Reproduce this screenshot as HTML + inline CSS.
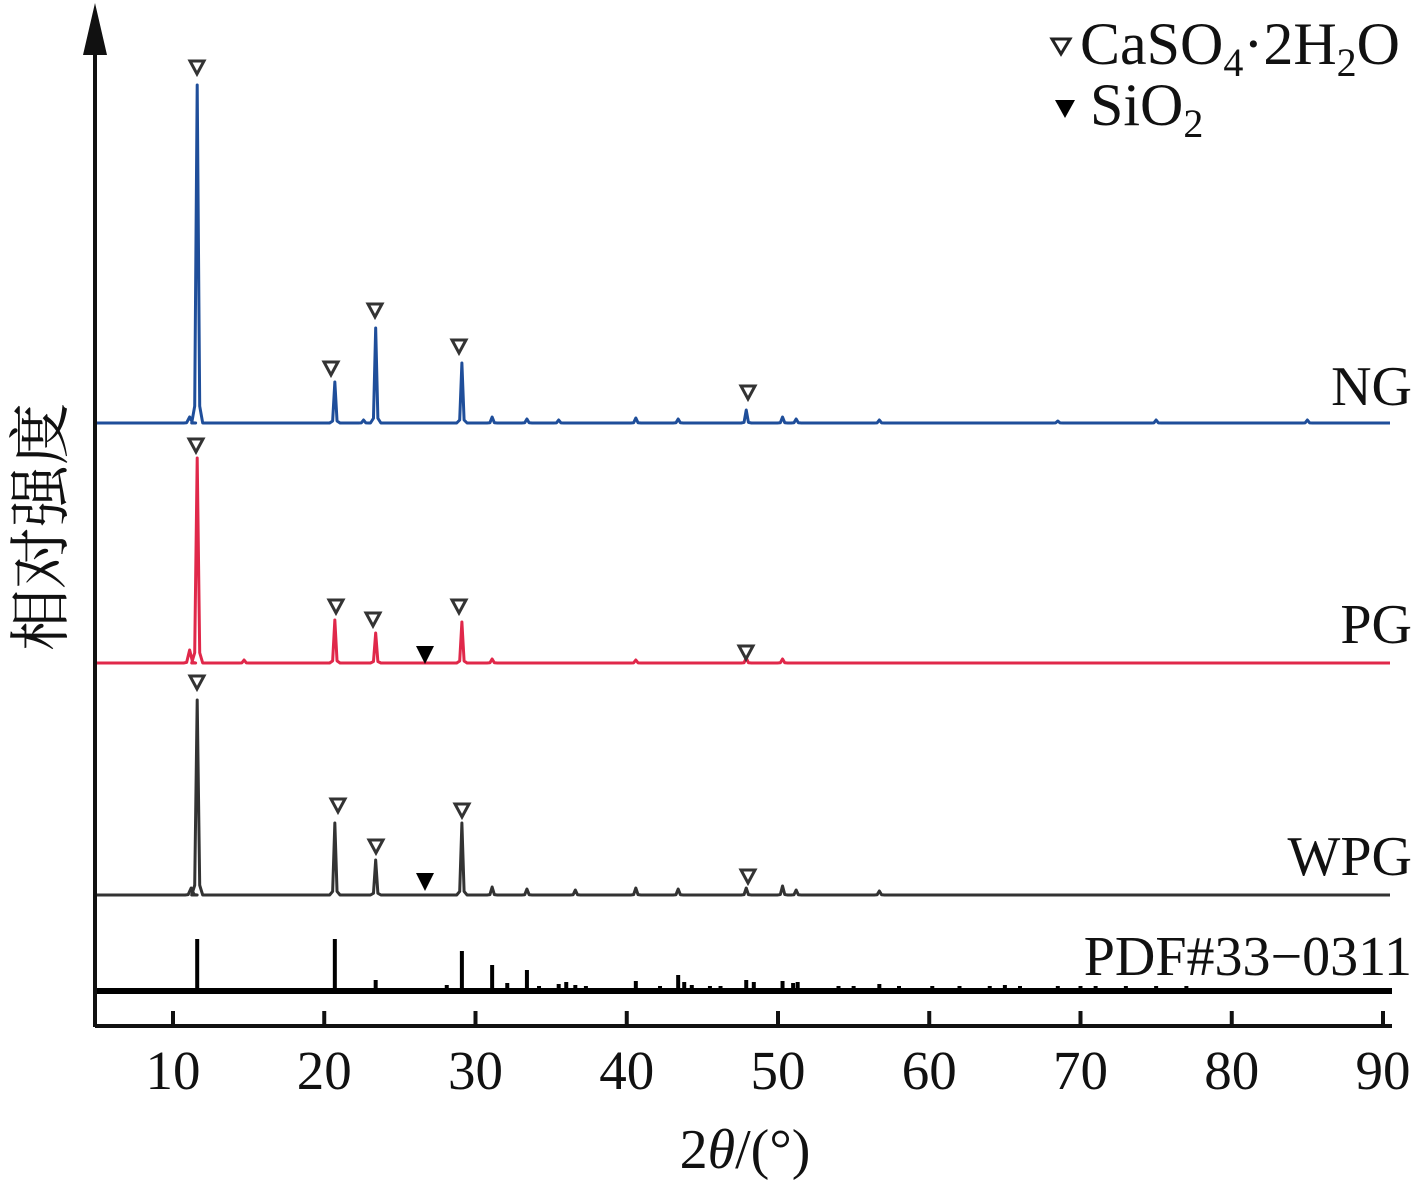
<!DOCTYPE html>
<html><head><meta charset="utf-8"><style>
html,body{margin:0;padding:0;background:#fff;}
svg{display:block;}
text{font-family:"Liberation Serif","Noto Serif CJK SC",serif;fill:#111;}
</style></head><body>
<svg id="s" width="1417" height="1181" viewBox="0 0 1417 1181" xmlns="http://www.w3.org/2000/svg">
<line x1="95" y1="1026" x2="1392" y2="1026" stroke="#111" stroke-width="4"/>
<line x1="95" y1="1027" x2="95" y2="50" stroke="#111" stroke-width="4"/>
<polygon points="95,3 83,55 107,55" fill="#111"/>
<line x1="97" y1="991" x2="1392" y2="991" stroke="#000" stroke-width="6"/>
<g id="ticks" stroke="#111" stroke-width="4"></g>
<g id="curves" fill="none"></g>
<g id="marks"></g>
<g font-size="55" text-anchor="middle" id="tl"></g>
<text x="745" y="1168" font-size="56" text-anchor="middle">2<tspan font-style="italic">θ</tspan>/(°)</text>
<text transform="translate(62,527) rotate(-90)" font-size="62" text-anchor="middle">相对强度</text>
<text x="1412" y="405" font-size="56" text-anchor="end">NG</text>
<text x="1412" y="643" font-size="56" text-anchor="end">PG</text>
<text x="1412" y="875" font-size="56" text-anchor="end">WPG</text>
<text x="1412" y="975" font-size="56" text-anchor="end">PDF#33−0311</text>
<polygon points="1052,39 1070,39 1061,54" fill="none" stroke="#222" stroke-width="3"/>
<text x="1080" y="64" font-size="60">CaSO<tspan font-size="40" dy="12">4</tspan><tspan dy="-12">·2H</tspan><tspan font-size="40" dy="12">2</tspan><tspan dy="-12">O</tspan></text>
<polygon points="1055,100 1075,100 1065,118" fill="#000"/>
<text x="1090" y="125" font-size="60">SiO<tspan font-size="40" dy="12">2</tspan></text>
</svg>
<script>
const X=t=>173+(t-10)*15.125;
const NS="http://www.w3.org/2000/svg";
function el(p,n,a){const e=document.createElementNS(NS,n);for(const k in a)e.setAttribute(k,a[k]);document.getElementById(p).appendChild(e);return e;}
for(let t=10;t<=90;t+=10){el('ticks','line',{x1:X(t),y1:1026,x2:X(t),y2:1011});const tx=el('tl','text',{x:X(t),y:1089});tx.textContent=t;}
function curve(b,peaks,color,w){
 let d=`M97 ${b}`;peaks.sort((a,c)=>a[0]-c[0]);
 for(const [t,top,hw] of peaks){const x=X(t),h=hw||2.2;d+=` L${x-h-3} ${b} L${x-h} ${b-(b-top)*0.05} L${x} ${top} L${x+h} ${b-(b-top)*0.05} L${x+h+3} ${b}`;}
 d+=` L1390 ${b}`;el('curves','path',{d:d,stroke:color,'stroke-width':w,'stroke-linejoin':'round'});
}
const minor=(b,s)=>[[31.1,b-6*s],[33.4,b-4*s],[35.5,b-3*s],[40.6,b-5*s],[43.4,b-4*s],[50.3,b-6*s],[51.2,b-4*s],[56.7,b-3*s],[68.5,b-2*s]];
curve(423,[[11.6,85,2.5],[20.7,382],[23.4,328],[29.1,363],[47.9,410],[11.1,417,3],[22.6,420],[75,420],[85,420]].concat(minor(423,1)),'#1f4e9a',3);
curve(663,[[11.6,458,2.5],[20.7,620],[23.4,633],[29.1,622],[47.9,658],[11.1,650,3],[14.7,660],[31.1,659],[40.6,660],[50.3,659]],'#e0284a',3);
curve(895,[[11.6,700,2.5],[20.7,823],[23.4,860],[29.1,823],[47.9,888],[11.2,888,3],[31.1,887],[33.4,889],[36.6,890],[40.6,888],[43.4,889],[50.3,886],[51.2,890],[56.7,891]],'#333',3);
const st=[[11.6,939],[20.7,939],[23.4,980],[28.1,985],[29.1,951],[31.1,965],[32.1,983],[33.4,970],[34.2,986],[35.5,984],[36.0,982],[36.6,985],[37.3,986],[40.6,981],[42.2,986],[43.4,975],[43.8,982],[44.3,985],[45.5,986],[46.2,986],[47.9,980],[48.4,982],[50.3,981],[51.0,983],[51.3,982],[54,986],[55,986],[56.7,984],[58,986],[60.2,986],[62,986],[64,986],[65,985],[66,986],[68.5,986],[70,986],[71,986],[73,986],[75,986],[77,986]];
for(const [t,y] of st)el('curves','line',{x1:X(t),y1:991,x2:X(t),y2:y,stroke:'#000','stroke-width':4});
function open(x,y){el('marks','polygon',{points:`${x-7},${y-7} ${x+7},${y-7} ${x},${y+6}`,fill:'none',stroke:'#333','stroke-width':3});}
function fill(x,y){el('marks','polygon',{points:`${x-9},${y-9} ${x+9},${y-9} ${x},${y+9}`,fill:'#000'});}
[[197,68],[331,369],[375,311],[459,347],[748,393],[196,446],[336,607],[373,620],[459,607],[746,653],[197,683],[338,806],[376,847],[462,811],[748,877]].forEach(p=>open(p[0],p[1]));
fill(425,655);fill(425,882);
</script>
</body></html>
